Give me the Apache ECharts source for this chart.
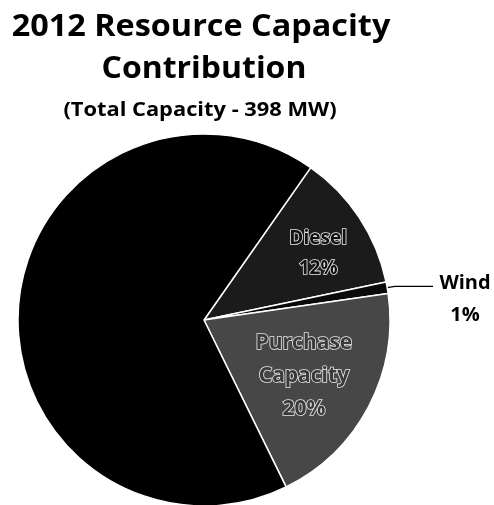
<!DOCTYPE html>
<html>
<head>
<meta charset="utf-8">
<script src="https://cdn.jsdelivr.net/npm/echarts@6/dist/echarts.min.js"></script>
<style>
html,body{margin:0;padding:0;background:#fff;}
#main{width:494px;height:505px;}
</style>
</head>
<body>
<div id="main"></div>
<script>
var titleLines = ['2012 Resource Capacity', 'Contribution'];
var subtitle = '(Total Capacity - 398 MW)';
var categories = ['Diesel', 'Wind', 'Purchase Capacity', 'Other'];
var shares = [12, 1, 20, 67];
var labelText = ['Diesel\n12%', 'Wind\n1%', 'Purchase\nCapacity\n20%', ''];
var colors = ['#1b1b1b', '#0a0a0a', '#474747', '#000000'];

var chart = echarts.init(document.getElementById('main'));
var FONT = '"Open Sans"';

var data = categories.map(function (c, i) {
  var item = { name: c, value: shares[i], itemStyle: { color: colors[i] } };
  if (c === 'Wind') {
    item.label = {
      show: true, position: 'outside', color: '#000', fontSize: 20, fontWeight: 'bold',
      fontFamily: FONT, lineHeight: 32
    };
    item.labelLine = { show: true, length: 8, length2: 38, lineStyle: { color: '#000', width: 1.2 } };
  } else if (c === 'Other') {
    item.label = { show: false };
    item.labelLine = { show: false };
  } else {
    item.label = {
      show: true, position: 'inside', color: c === 'Diesel' ? '#111' : '#3a3a3a',
      textBorderColor: '#e8e8e8', textBorderWidth: 1.6,
      fontSize: c === 'Diesel' ? 19 : 21, fontWeight: 'bold', fontFamily: FONT,
      lineHeight: c === 'Diesel' ? 30 : 33
    };
    item.labelLine = { show: false };
  }
  return item;
});

var labelShift = {
  'Diesel': { dx: 34, dy: -14 },
  'Purchase Capacity': { dx: 15, dy: 11 },
  'Wind': { dx: 27, dy: 13, align: 'center' }
};

chart.setOption({
  animation: false,
  backgroundColor: '#fff',
  graphic: [
    { type: 'text', x: 201, y: 11.5, scaleX: 1.045, style: { text: titleLines[0], font: 'bold 31px ' + FONT, fill: '#000', textAlign: 'center' } },
    { type: 'text', x: 204, y: 53.5, scaleX: 1.03, style: { text: titleLines[1], font: 'bold 31px ' + FONT, fill: '#000', textAlign: 'center' } },
    { type: 'text', x: 200, y: 101.5, scaleX: 1.15, style: { text: subtitle, font: 'bold 19px ' + FONT, fill: '#000', textAlign: 'center' } }
  ],
  series: [{
    type: 'pie',
    center: [204, 320],
    radius: 186,
    startAngle: 55,
    clockwise: true,
    avoidLabelOverlap: false,
    itemStyle: { borderColor: '#fff', borderWidth: 1.5 },
    label: {
      formatter: function (p) { return labelText[p.dataIndex]; }
    },
    labelLayout: function (p) {
      return labelShift[categories[p.dataIndex]] || {};
    },
    data: data
  }]
});
</script>
</body>
</html>
